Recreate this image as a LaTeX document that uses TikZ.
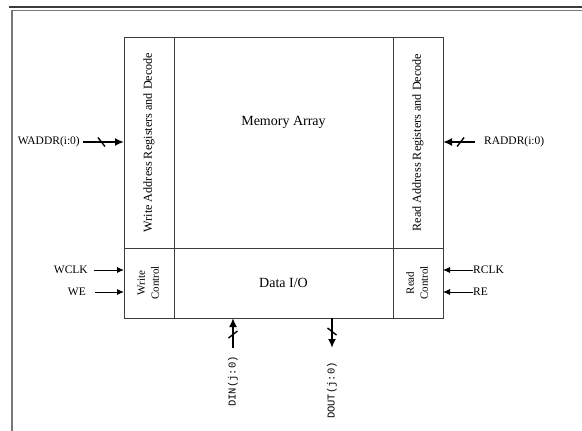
\documentclass[tikz,border=0pt]{standalone}
\usepackage{fontspec}
\setmainfont{Liberation Serif}
\setmonofont{Liberation Mono}
\usepackage{graphicx}
\usetikzlibrary{arrows.meta,positioning,decorations.markings,calc}
\definecolor{framegray}{RGB}{120,120,120}
\definecolor{edgedark}{RGB}{60,60,60}

\begin{document}
\begin{tikzpicture}[x=1pt,y=-1pt,
    blk/.style={draw=edgedark, line width=0.9pt, inner sep=0pt, outer sep=0pt, align=center},
    lbl/.style={inner sep=0pt, font=\fontsize{11.5}{13}\selectfont},
    mono/.style={inner sep=0pt, font=\ttfamily\fontsize{10.5}{12}\selectfont},
    sig/.style={-{Latex[length=7pt,width=6pt]}, line width=0.9pt},
    bus/.style={-{Latex[length=9pt,width=8pt]}, line width=2pt, postaction={decorate},
      decoration={markings, mark=at position 0.45 with {\draw[-, line width=1.4pt] (-3.5pt,{#1*4.5pt}) -- (3.5pt,{-#1*4.5pt});}}}]
  \useasboundingbox (0,0) rectangle (582,431);
  \draw[line width=2pt, edgedark] (9,6.5) -- (582,6.5);
  \draw[line width=1.3pt, framegray] (12,431) -- (12,10.5) -- (582,10.5);

  \node[blk, minimum width=219pt, minimum height=211pt, text depth=43pt,
        font=\fontsize{14}{16}\selectfont] (memarr) at (283.5,142.5) {Memory Array};
  \node[blk, minimum width=50pt, minimum height=211pt, left=0pt of memarr,
        font=\fontsize{12.2}{14}\selectfont] (wdec) {\rotatebox{90}{Write Address Registers and Decode}};
  \node[blk, minimum width=50pt, minimum height=211pt, right=0pt of memarr,
        font=\fontsize{12.2}{14}\selectfont] (rdec) {\rotatebox{90}{Read Address Registers and Decode}};
  \node[blk, minimum width=219pt, minimum height=70pt, below=0pt of memarr,
        font=\fontsize{14}{16}\selectfont] (dataio) {Data I/O};
  \node[blk, minimum width=50pt, minimum height=70pt, left=0pt of dataio,
        font=\fontsize{11}{14}\selectfont] (wctl) {\rotatebox{90}{\begin{tabular}{@{}c@{}}Write\\Control\end{tabular}}};
  \node[blk, minimum width=50pt, minimum height=70pt, right=0pt of dataio,
        font=\fontsize{11}{14}\selectfont] (rctl) {\rotatebox{90}{\begin{tabular}{@{}c@{}}Read\\Control\end{tabular}}};

  \node[lbl, anchor=east] (waddr) at (80,142) {WADDR(i:0)};
  \node[lbl, anchor=west] (raddr) at (484,142) {RADDR(i:0)};
  \node[lbl, anchor=east] (wclk) at (88,270) {WCLK};
  \node[lbl, anchor=east] (we) at (86,292) {WE};
  \node[lbl, anchor=west] (rclk) at (473,270) {RCLK};
  \node[lbl, anchor=west] (re) at (473,292) {RE};
  \node[mono, rotate=90, anchor=east] (din) at (233,356) {DIN(j:0)};
  \node[mono, rotate=90, anchor=east] (dout) at (332,362) {DOUT(j:0)};

  \draw[bus=1] ([xshift=3pt]waddr.east) -- (waddr.east -| wdec.west);
  \draw[bus=-1] ([xshift=-9pt]raddr.west) -- (raddr.west -| rdec.east);
  \draw[sig] ([xshift=6pt]wclk.east) -- (wclk.east -| wctl.west);
  \draw[sig] ([xshift=9pt]we.east) -- (we.east -| wctl.west);
  \draw[sig] (rclk.west) -- (rclk.west -| rctl.east);
  \draw[sig] (re.west) -- (re.west -| rctl.east);
  \draw[bus=1] ([yshift=8pt]din.east) -- (din.east |- dataio.south);
  \draw[bus=-1] (dout.east |- dataio.south) -- ([yshift=14pt]dout.east);
\end{tikzpicture}
\end{document}
